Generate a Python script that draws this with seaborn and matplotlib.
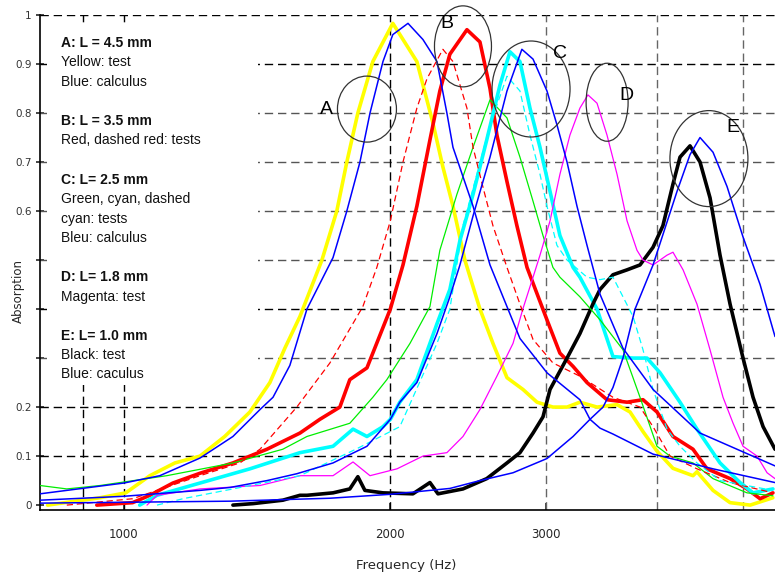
import matplotlib
matplotlib.use("Agg")
import matplotlib.pyplot as plt
from matplotlib.patches import Ellipse, Rectangle
from matplotlib.ticker import FixedLocator, NullLocator
import seaborn as sns

######################################## data ########################################
# A: L = 4.5 mm
freq_yellow = [820, 940, 1005, 1070, 1142, 1219, 1300, 1388, 1462, 1520, 1581, 1674, 1740, 1786, 1838, 1911,
               2013, 2143, 2234, 2293, 2354, 2428, 2525, 2612, 2709, 2824, 2929, 3053, 3167, 3275, 3424, 3607,
               3731, 3859, 4002, 4172, 4395, 4441, 4630, 4840, 5100, 5410]
abs_yellow = [0.0, 0.015, 0.025, 0.06, 0.086, 0.10, 0.14, 0.19, 0.25, 0.32, 0.385, 0.50, 0.60, 0.70, 0.80, 0.905,
              0.983, 0.905, 0.78, 0.69, 0.61, 0.50, 0.40, 0.33, 0.26, 0.236, 0.21, 0.20, 0.20, 0.21, 0.20, 0.205,
              0.19, 0.15, 0.11, 0.075, 0.06, 0.068, 0.03, 0.005, 0.0, 0.015]
freq_blue_a = [804, 1000, 1098, 1219, 1328, 1425, 1474, 1540, 1610, 1723, 1786, 1848, 1897, 1962, 2013, 2094, 2177,
               2258, 2317, 2354, 2480, 2592, 2802, 3006, 3275, 3362, 3451, 3569, 3961, 4630, 5440]
abs_blue_a = [0.023, 0.045, 0.06, 0.096, 0.14, 0.195, 0.22, 0.285, 0.40, 0.505, 0.60, 0.70, 0.80, 0.905, 0.96, 0.983,
              0.95, 0.905, 0.80, 0.73, 0.61, 0.49, 0.34, 0.27, 0.215, 0.175, 0.157, 0.145, 0.104, 0.074, 0.046]

# B: L = 3.5 mm
freq_red = [932, 1023, 1070, 1136, 1219, 1328, 1451, 1581, 1665, 1754, 1800, 1882, 2000, 2067, 2143, 2217, 2275,
            2335, 2441, 2525, 2592, 2639, 2709, 2780, 2854, 3006, 3109, 3217, 3336, 3514, 3702, 3859, 4002, 4172,
            4395, 4558, 4840, 5058, 5233, 5411]
abs_red = [0.0, 0.005, 0.02, 0.045, 0.065, 0.086, 0.114, 0.147, 0.175, 0.20, 0.256, 0.28, 0.40, 0.49, 0.61, 0.745,
           0.845, 0.92, 0.97, 0.945, 0.85, 0.755, 0.66, 0.57, 0.485, 0.378, 0.31, 0.283, 0.25, 0.215, 0.21, 0.215,
           0.19, 0.14, 0.114, 0.074, 0.054, 0.033, 0.013, 0.025]
freq_red_dash = [862, 1023, 1219, 1352, 1425, 1568, 1709, 1862, 1931, 2000, 2067, 2143, 2200, 2293, 2354, 2441, 2480,
                 2544, 2612, 2709, 2802, 2899, 3053, 3275, 3569, 3829, 3961, 4140, 4441, 4840, 5411]
abs_red_dash = [0.0, 0.013, 0.06, 0.086, 0.114, 0.20, 0.29, 0.405, 0.485, 0.58, 0.70, 0.81, 0.87, 0.93, 0.905, 0.81,
                0.73, 0.65, 0.57, 0.485, 0.41, 0.338, 0.29, 0.263, 0.22, 0.20, 0.16, 0.10, 0.074, 0.046, 0.025]

# C: L = 2.5 mm
freq_green = [804, 862, 940, 1118, 1328, 1512, 1610, 1800, 1911, 1982, 2105, 2217, 2275, 2378, 2480, 2592, 2709,
              2802, 2899, 2975, 3053, 3109, 3275, 3451, 3663, 3760, 3829, 4002, 4140, 4395, 4630, 5058, 5411]
abs_green = [0.04, 0.033, 0.04, 0.06, 0.086, 0.114, 0.14, 0.167, 0.22, 0.256, 0.33, 0.405, 0.52, 0.634, 0.73, 0.827,
             0.79, 0.71, 0.62, 0.55, 0.485, 0.465, 0.425, 0.378, 0.317, 0.26, 0.22, 0.12, 0.10, 0.086, 0.054,
             0.025, 0.019]
freq_cyan = [1042, 1090, 1219, 1388, 1581, 1723, 1815, 1882, 1962, 2000, 2050, 2143, 2258, 2335, 2397, 2480, 2570,
             2660, 2730, 2802, 2876, 2952, 3030, 3109, 3217, 3275, 3424, 3569, 3760, 3899, 4034, 4249, 4441, 4715,
             4967, 5137, 5411]
abs_cyan = [0.0, 0.02, 0.045, 0.074, 0.107, 0.12, 0.155, 0.14, 0.16, 0.175, 0.21, 0.256, 0.37, 0.44, 0.54, 0.634,
            0.745, 0.857, 0.925, 0.905, 0.81, 0.73, 0.64, 0.55, 0.485, 0.465, 0.40, 0.303, 0.30, 0.30, 0.27, 0.21,
            0.155, 0.086, 0.046, 0.025, 0.033]
freq_cyan_dash = [1090, 1166, 1328, 1581, 1833, 2050, 2258, 2335, 2416, 2505, 2592, 2709, 2802, 2876, 2952, 3006,
                  3085, 3167, 3336, 3451, 3569, 3760, 3859, 3961, 4108, 4249, 4441, 4715, 5411]
abs_cyan_dash = [0.0, 0.013, 0.033, 0.06, 0.115, 0.16, 0.33, 0.40, 0.57, 0.675, 0.776, 0.875, 0.845, 0.755, 0.675,
                 0.61, 0.53, 0.50, 0.465, 0.46, 0.465, 0.385, 0.317, 0.236, 0.155, 0.12, 0.086, 0.05, 0.03]
freq_blue_c = [804, 1000, 1219, 1318, 1451, 1568, 1723, 1786, 1882, 2000, 2050, 2143, 2258, 2335, 2397, 2480, 2592,
               2709, 2816, 2899, 3006, 3085, 3167, 3250, 3336, 3451, 3663, 3961, 4476, 5440]
abs_blue_c = [0.01, 0.018, 0.03, 0.036, 0.05, 0.064, 0.086, 0.10, 0.12, 0.175, 0.21, 0.25, 0.35, 0.425, 0.49, 0.59,
              0.71, 0.845, 0.93, 0.91, 0.845, 0.776, 0.70, 0.61, 0.53, 0.43, 0.32, 0.236, 0.147, 0.08]

# D: L = 1.8 mm
freq_magenta = [1062, 1090, 1219, 1425, 1581, 1723, 1815, 1897, 2035, 2177, 2317, 2416, 2525, 2639, 2752, 2823, 2899,
                2952, 3030, 3109, 3191, 3275, 3344, 3424, 3514, 3607, 3702, 3799, 3859, 3961, 4108, 4172, 4283,
                4441, 4594, 4752, 4878, 5006, 5192, 5329, 5440]
abs_magenta = [0.0, 0.02, 0.033, 0.04, 0.06, 0.06, 0.088, 0.06, 0.074, 0.10, 0.107, 0.14, 0.195, 0.263, 0.33, 0.40,
               0.465, 0.51, 0.58, 0.675, 0.755, 0.81, 0.837, 0.82, 0.755, 0.675, 0.58, 0.52, 0.50, 0.49, 0.51,
               0.516, 0.48, 0.41, 0.317, 0.22, 0.167, 0.12, 0.10, 0.066, 0.054]

# E: L = 1.0 mm
freq_black = [1328, 1399, 1512, 1581, 1610, 1723, 1800, 1838, 1872, 1962, 2121, 2217, 2264, 2416, 2570, 2709, 2802,
              2899, 2975, 3030, 3167, 3275, 3387, 3451, 3569, 3702, 3829, 3961, 4064, 4172, 4249, 4361, 4476, 4594,
              4715, 4840, 5006, 5138, 5274, 5440]
abs_black = [0.0, 0.003, 0.01, 0.02, 0.02, 0.025, 0.033, 0.058, 0.03, 0.025, 0.023, 0.046, 0.023, 0.033, 0.054,
             0.086, 0.107, 0.147, 0.18, 0.236, 0.30, 0.35, 0.41, 0.44, 0.47, 0.48, 0.49, 0.526, 0.57, 0.655, 0.71,
             0.733, 0.70, 0.627, 0.51, 0.41, 0.30, 0.22, 0.16, 0.114]
freq_blue_e = [804, 1318, 1709, 2000, 2335, 2525, 2752, 3006, 3217, 3362, 3478, 3569, 3663, 3780, 3961, 4216, 4361,
               4476, 4630, 4802, 5006, 5233, 5440]
abs_blue_e = [0.004, 0.008, 0.014, 0.022, 0.034, 0.05, 0.066, 0.095, 0.14, 0.175, 0.20, 0.24, 0.30, 0.40, 0.49, 0.64,
              0.715, 0.75, 0.72, 0.65, 0.547, 0.45, 0.344]

# group circles and their letters
group_names = ["A", "B", "C", "D", "E"]
group_freq = [1882, 2416, 2884, 3515, 4581]
group_abs = [0.808, 0.936, 0.849, 0.822, 0.707]
letter_freq = [1696, 2317, 3109, 3692, 4877]
letter_abs = [0.808, 0.983, 0.922, 0.835, 0.77]

x_ticks = [1000, 2000, 3000]
y_ticks = [0, 0.1, 0.2, 0.3, 0.4, 0.5, 0.6, 0.7, 0.8, 0.9, 1.0]
y_tick_labels = ["0", "0.1", "0.2", "", "", "", "0.6", "0.7", "0.8", "0.9", "1"]

legend_lines = [("A: L = 4.5 mm", True), ("Yellow: test", False), ("Blue: calculus", False), ("", False),
                ("B: L = 3.5 mm", True), ("Red, dashed red: tests", False), ("", False),
                ("C: L= 2.5 mm", True), ("Green, cyan, dashed", False), ("cyan: tests", False),
                ("Bleu: calculus", False), ("", False),
                ("D: L= 1.8 mm", True), ("Magenta: test", False), ("", False),
                ("E: L= 1.0 mm", True), ("Black: test", False), ("Blue: caculus", False)]

######################################## plot ########################################
sns.set_theme(style="white")
plt.rcParams['font.family'] = ['DejaVu Sans']

W, H = 775, 577
fig = plt.figure(figsize=(W / 100, H / 100), dpi=100)
ax_l, ax_r, ax_t, ax_b = 40, 775, 15, 510
ax = fig.add_axes([ax_l / W, 1 - ax_b / H, (ax_r - ax_l) / W, (ax_b - ax_t) / H])
ax.set_xscale("log")
ax.set_xlim(804, 5440)
ax.set_ylim(-0.01, 1.0)

# dashed grid
dash = (0, (6, 3.5))
for y in [0.1, 0.2, 0.4, 0.9, 1.0]:
	ax.axhline(y, color="black", lw=1.0, ls=dash, zorder=1)
for y in [0.3, 0.5, 0.6, 0.7, 0.8]:
	ax.axhline(y, color="#555555", lw=1.0, ls=dash, zorder=1)
for x in [900, 1000, 2000]:
	ax.axvline(x, color="black", lw=1.0, ls=dash, zorder=1)
for x in [3000, 4000, 5000]:
	ax.axvline(x, color="#666666", lw=1.0, ls=dash, zorder=1)

# white box behind the description text
ax.add_patch(Rectangle((7 / 735, 125 / 495), 211 / 735, 360 / 495, transform=ax.transAxes,
                       facecolor="white", edgecolor="none", zorder=2))

thick = 2.6
thin = 0.9
curves = [
	(freq_yellow, abs_yellow, "#ffff00", thick, "-"),
	(freq_red, abs_red, "#ff0000", thick, "-"),
	(freq_cyan, abs_cyan, "#00ffff", thick, "-"),
	(freq_black, abs_black, "black", thick, "-"),
	(freq_green, abs_green, "#00ee00", thin, "-"),
	(freq_magenta, abs_magenta, "#ff00ff", thin, "-"),
	(freq_red_dash, abs_red_dash, "#ff0000", thin, (0, (5, 3))),
	(freq_cyan_dash, abs_cyan_dash, "#00ffff", thin, (0, (5, 3))),
	(freq_blue_a, abs_blue_a, "#0000ff", 1.1, "-"),
	(freq_blue_c, abs_blue_c, "#0000ff", 1.1, "-"),
	(freq_blue_e, abs_blue_e, "#0000ff", 1.1, "-"),
]
for i, (fx, ay, col, lw, ls) in enumerate(curves):
	sns.lineplot(x=fx, y=ay, ax=ax, color=col, linewidth=lw, linestyle=ls,
	             estimator=None, sort=False, legend=False, zorder=3 + i * 0.01)

# circles around each group
ell_size = [(59, 66), (57, 81), (78, 96), (42, 78), (78, 96)]
to_axes = ax.transData + ax.transAxes.inverted()
for name, gf, ga, lf, la, (w, h) in zip(group_names, group_freq, group_abs, letter_freq, letter_abs, ell_size):
	cx, cy = to_axes.transform((gf, ga))
	ax.add_patch(Ellipse((cx, cy), w / 735, h / 495, transform=ax.transAxes, fill=False,
	                     edgecolor="#333333", lw=0.9, zorder=5, clip_on=False))
	ax.text(lf, la, name, fontsize=14, ha="center", va="center", color="black",
	        family=["Liberation Sans"], zorder=6)

# description text
py = 43
for s, bold in legend_lines:
	if s:
		fig.text(61 / W, 1 - py / H, s, fontsize=10, fontweight="bold" if bold else "normal",
		         family=["Liberation Sans"], va="center", ha="left", color="#111111", zorder=10)
	py += 19.5

# axes, ticks
for sp in ["top", "right"]:
	ax.spines[sp].set_visible(False)
for sp in ["left", "bottom"]:
	ax.spines[sp].set_color("black")
	ax.spines[sp].set_linewidth(1.2)
ax.xaxis.set_major_locator(FixedLocator(x_ticks))
ax.xaxis.set_minor_locator(NullLocator())
ax.set_xticklabels([str(t) for t in x_ticks])
ax.set_yticks(y_ticks)
ax.set_yticklabels(y_tick_labels)
ax.tick_params(axis="x", direction="in", length=5, width=1.2, pad=13, labelsize=8.5, bottom=True)
ax.tick_params(axis="y", direction="inout", length=6, width=1.2, pad=3, labelsize=7.5, labelcolor="#333333", left=True)

fig.text(406 / W, 1 - 565 / H, "Frequency (Hz)", fontsize=9.5, ha="center", va="center")
fig.text(18 / W, 1 - 291 / H, "Absorption", fontsize=8.5, ha="center", va="center", rotation=90)

fig.savefig("out.png", dpi=100)
plt.close()
